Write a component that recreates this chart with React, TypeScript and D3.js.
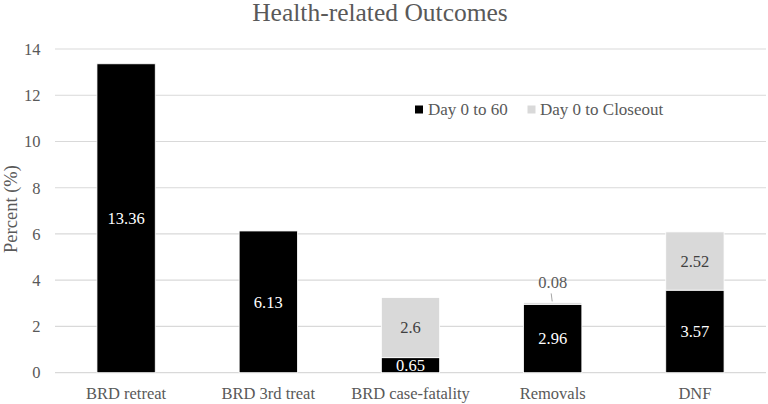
import * as d3 from "d3";

const categories = ["BRD retreat", "BRD 3rd treat", "BRD case-fatality", "Removals", "DNF"];
const day0to60 = [13.36, 6.13, 0.65, 2.96, 3.57];
const day0toCloseout = [0, 0, 2.6, 0.08, 2.52];
const seriesNames = ["Day 0 to 60", "Day 0 to Closeout"];
const yTicks = [0, 2, 4, 6, 8, 10, 12, 14];

const W = 768;
const H = 404;
const FONT = `"Liberation Serif"`;
const TEXT = "#595959";
const colors = ["#000000", "#d9d9d9"];

export default function App() {
  const x = d3.scaleBand<string>().domain(categories).range([55, 766]).paddingInner(0.59).paddingOuter(0.295);
  const y = d3.scaleLinear().domain([0, 14]).range([372.7, 49]);
  const bw = x.bandwidth();

  const rows = categories.map((c, i) => ({ cat: c, a: day0to60[i], b: day0toCloseout[i] }));
  const stack = d3.stack<{ cat: string; a: number; b: number }>().keys(["a", "b"]);
  const layers = stack(rows);
  const values = [day0to60, day0toCloseout];
  const ts = { fontFamily: FONT };

  return (
    <svg width={W} height={H} style={{ position: "absolute", left: 0, top: 0, background: "#fff" }}>
      <text x={380} y={20.5} textAnchor="middle" fontSize={25.5} fill={TEXT} style={ts}>Health-related Outcomes</text>
      {yTicks.map(t => (
        <g key={t}>
          <line x1={55} x2={766} y1={y(t)} y2={y(t)} stroke="#d9d9d9" strokeWidth={1.2} />
          <text x={40.5} y={y(t)} dy="0.35em" textAnchor="end" fontSize={16.5} fill={TEXT} style={ts}>{t}</text>
        </g>
      ))}
      <text transform={`translate(17,209) rotate(-90)`} textAnchor="middle" fontSize={18.5} fill={TEXT} style={ts}>Percent (%)</text>
      {layers.map((layer, li) => (
        <g key={li}>
          {layer.map((d, i) => {
            if (values[li][i] <= 0) return null;
            return (
              <rect key={i} x={x(categories[i])!} width={bw} y={y(d[1])} height={y(d[0]) - y(d[1])}
                fill={colors[li]} stroke="#fff" strokeWidth={0.8} />
            );
          })}
        </g>
      ))}
      {layers.map((layer, li) =>
        layer.map((d, i) => {
          const v = values[li][i];
          if (v <= 0) return null;
          const cx = x(categories[i])! + bw / 2;
          const small = y(d[0]) - y(d[1]) < 10;
          if (small) {
            const top = y(d[1]);
            return (
              <g key={`${li}-${i}`}>
                <line x1={cx - 0.5} y1={top - 1} x2={cx - 1.5} y2={top - 9} stroke="#a6a6a6" strokeWidth={1} />
                <text x={cx} y={top - 20} dy="0.35em" textAnchor="middle" fontSize={16.5} fill={TEXT} style={ts}>{v}</text>
              </g>
            );
          }
          return (
            <text key={`${li}-${i}`} x={cx} y={(y(d[0]) + y(d[1])) / 2} dy="0.35em" textAnchor="middle"
              fontSize={16.5} fill={li === 0 ? "#fff" : "#404040"} style={ts}>{v}</text>
          );
        })
      )}
      {categories.map(c => (
        <text key={c} x={x(c)! + bw / 2} y={398.5} textAnchor="middle" fontSize={16.5} fill={TEXT} style={ts}>{c}</text>
      ))}
      <g>
        <rect x={415} y={105.5} width={8} height={8} fill={colors[0]} />
        <text x={428} y={115} fontSize={17} fill={TEXT} style={ts}>{seriesNames[0]}</text>
        <rect x={527.5} y={105.5} width={8} height={8} fill={colors[1]} />
        <text x={540} y={115} fontSize={17} fill={TEXT} style={ts}>{seriesNames[1]}</text>
      </g>
    </svg>
  );
}
